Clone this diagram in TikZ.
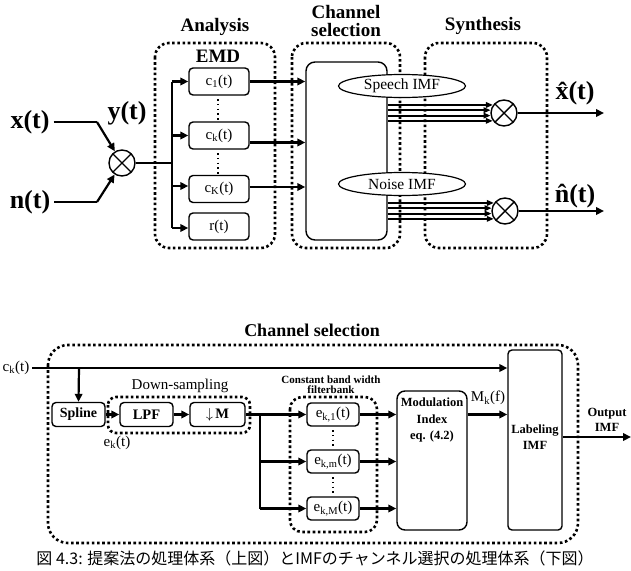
\documentclass[tikz,border=0pt]{standalone}
\usepackage{fontspec}
\setmainfont{Liberation Serif}
\newfontfamily\jpfont{Noto Sans CJK JP}
\usetikzlibrary{arrows.meta,shapes.geometric,calc}
\begin{document}
\begin{tikzpicture}[x=1pt,y=-1pt,
  conn/.style={line width=2.2pt},
  arr/.style={line width=2.2pt,-{Triangle[length=8pt,width=7.5pt]}},
  marr/.style={line width=1.8pt,-{Triangle[length=7pt,width=5.5pt]}},
  dotbox/.style={line width=2.6pt,dash pattern=on 2.6pt off 2.6pt,rounded corners=14pt},
  blk/.style={draw,line width=1.4pt,rounded corners=4pt,inner sep=0pt,fill=white},
  bigtxt/.style={font=\fontsize{26}{26}\selectfont\bfseries,inner sep=0pt},
  ttl/.style={font=\fontsize{19}{18}\selectfont\bfseries,inner sep=0pt,align=center},
  btxt/.style={font=\fontsize{15}{15}\selectfont},
  mulnode/.style={draw,circle,line width=1.4pt,minimum size=26pt,inner sep=0pt,fill=white,
     path picture={\draw[line width=1.4pt] (path picture bounding box.north west)--(path picture bounding box.south east)
       (path picture bounding box.north east)--(path picture bounding box.south west);}},
  ell/.style={draw,ellipse,line width=1.2pt,fill=white,minimum width=127pt,minimum height=23pt,inner sep=0pt,font=\fontsize{15.5}{15}\selectfont},
  vdots/.style={line width=1.6pt,dash pattern=on 1.6pt off 3.2pt}
]
\useasboundingbox (0,0) rectangle (631,570);

% ---------------- Top diagram ----------------
\draw[dotbox] (155,43) rectangle (275,248);
\draw[dotbox] (292,43) rectangle (400,248);
\draw[dotbox] (425,43) rectangle (547,248);
\node[ttl] (tana) at (215,27) {Analysis};
\node[ttl] (temd) at (218,56) {EMD};
\node[ttl] (tcs) at (346,21) {Channel\\selection};
\node[ttl] (tsyn) at (483,26) {Synthesis};

\node[bigtxt] (xt) at (30,122) {x(t)};
\node[bigtxt] (nt) at (30,202) {n(t)};
\node[bigtxt] (yt) at (127,113) {y(t)};
\node[mulnode] (mul) at (122,163) {};
\coordinate (xb) at (97,122);
\coordinate (nb) at (97,202);
\draw[conn] (xt.east)++(4,0) -- (xb);
\draw[conn] (nt.east)++(4,0) -- (nb);
\draw[arr] (xb) -- (mul);
\draw[arr] (nb) -- (mul);

\node[blk,minimum width=60pt,minimum height=27pt,btxt] (c1) at (219,81.5) {c\textsubscript{1}(t)};
\node[blk,minimum width=60pt,minimum height=27pt,btxt] (ck) at (219,135.5) {c\textsubscript{k}(t)};
\node[blk,minimum width=60pt,minimum height=27pt,btxt] (cK) at (219,189) {c\textsubscript{K}(t)};
\node[blk,minimum width=60pt,minimum height=27pt,btxt] (rt) at (219,226.5) {r(t)};
\coordinate (tr1) at (172,81.5);
\coordinate (tr2) at (172,135.5);
\coordinate (tr3) at (172,186);
\coordinate (tr4) at (172,228);
\draw[conn] (mul.east) -- (mul.east -| tr1);
\draw[conn] (tr1) -- (tr4);
\draw[arr] (tr1) -- (c1.west);
\draw[arr] (tr2) -- (ck.west);
\draw[arr] (tr3) -- (tr3 -| cK.west);
\draw[arr] (tr4) -- (tr4 -| rt.west);
\draw[vdots] (218,99) -- (218,120);
\draw[vdots] (218,153) -- (218,174);

\node[draw,line width=1.4pt,rounded corners=9pt,minimum width=81pt,minimum height=178pt,inner sep=0pt] (sel) at (346.5,151) {};
\draw[arr] (c1.east) -- (c1.east -| sel.west);
\draw[arr] ([yshift=-7pt]ck.east) -- ([yshift=-7pt]ck.east -| sel.west);
\draw[arr] ([yshift=2pt]cK.east) -- ([yshift=2pt]cK.east -| sel.west);
\node[ell] (sp) at (402,86) {Speech IMF};
\node[ell] (ni) at (402,184) {Noise IMF};

\node[mulnode] (m2) at (504,113) {};
\node[mulnode] (m3) at (505,211) {};
\foreach \a in {144.8,168.9,191.1,215.2}{
  \draw[marr] (m2.\a -| sel.east) -- (m2.\a);
  \draw[marr] (m3.\a -| sel.east) -- (m3.\a);
}
\coordinate (xo) at (604,113);
\coordinate (no) at (604,211);
\draw[arr] (m2.east) -- (xo);
\draw[arr] (m3.east) -- (no);
\node[bigtxt] (xh) at (575,93) {\^{x}(t)};
\node[bigtxt] (nh) at (575,196) {\^{n}(t)};

% ---------------- Bottom diagram ----------------
\node[font=\fontsize{18}{18}\selectfont\bfseries,inner sep=0pt] (t2) at (312,330) {Channel selection};
\draw[dotbox,rounded corners=20pt] (48,345) rectangle (578,543);
\node[btxt,inner sep=0pt] (ckl) at (16,368) {c\textsubscript{k}(t)};

\node[blk,minimum width=54pt,minimum height=180pt] (lab) at (535,440) {};
\node[font=\fontsize{12.5}{16}\selectfont\bfseries,align=center,inner sep=0pt] (labt) at (535,437) {Labeling\\IMF};
\coordinate (sp2) at (79,368);
\draw[arr] (ckl.east)++(3,0) -- (ckl.east -| lab.west);

\node[blk,minimum width=53pt,minimum height=24pt,font=\fontsize{14}{14}\selectfont\bfseries] (spl) at (78.5,414.5) {Spline};
\draw[arr] (sp2) -- (spl.north);
\draw[dotbox,rounded corners=8pt] (108,397) rectangle (250,433);
\node[btxt,inner sep=0pt] (dsl) at (180,386) {Down-sampling};
\node[blk,minimum width=53pt,minimum height=24pt,font=\fontsize{14.5}{14}\selectfont\bfseries] (lpf) at (146.5,414.5) {LPF};
\node[blk,minimum width=55pt,minimum height=24pt,font=\fontsize{14.5}{14}\selectfont\bfseries] (dm) at (217.5,414.5) {$\downarrow$\,M};
\draw[arr] (spl.east) -- (lpf.west);
\draw[arr] (lpf.east) -- (dm.west);
\node[btxt,inner sep=0pt] (ekl) at (117,443) {e\textsubscript{k}(t)};

\draw[dotbox,rounded corners=12pt] (290,397) rectangle (377,532);
\node[font=\fontsize{11}{10}\selectfont\bfseries,align=center,inner sep=0pt] (cbw) at (331,385) {Constant band width\\filterbank};
\node[blk,minimum width=52pt,minimum height=23pt,btxt] (e1) at (333,414.5) {e\textsubscript{k,1}(t)};
\node[blk,minimum width=52pt,minimum height=23pt,btxt] (em) at (333,461.5) {e\textsubscript{k,m}(t)};
\node[blk,minimum width=52pt,minimum height=23pt,btxt] (eM) at (333,508.5) {e\textsubscript{k,M}(t)};
\draw[vdots] (333,430) -- (333,447);
\draw[vdots] (333,477) -- (333,494);
\coordinate (b1) at (260,414.5);
\coordinate (b3) at (260,508.5);
\draw[conn] (dm.east) -- (b1) -- (b3);
\draw[arr] (b1) -- (e1.west);
\draw[arr] (b1 |- em.west) -- (em.west);
\draw[arr] (b3) -- (eM.west);

\node[blk,rounded corners=8pt,minimum width=70pt,minimum height=139pt] (mod) at (432,460.5) {};
\node[font=\fontsize{12.5}{16.5}\selectfont\bfseries,align=center,inner sep=0pt] (modt) at (432,420) {Modulation\\Index\\eq. (4.2)};
\draw[arr] (e1.east) -- (e1.east -| mod.west);
\draw[arr] (em.east) -- (em.east -| mod.west);
\draw[arr] (eM.east) -- (eM.east -| mod.west);
\draw[arr] (e1.east -| mod.east) -- (e1.east -| lab.west);
\node[btxt,inner sep=0pt] (mkf) at (488,398) {M\textsubscript{k}(f)};
\coordinate (outc) at (631,437);
\draw[arr] (outc -| lab.east) -- (outc);
\node[font=\fontsize{12.5}{15}\selectfont\bfseries,align=center,inner sep=0pt] (outt) at (607,420) {Output\\IMF};

% caption
\node[font=\jpfont\fontsize{16}{16}\selectfont,inner sep=0pt] (cap) at (315,558) {図 4.3: 提案法の処理体系（上図）とIMFのチャンネル選択の処理体系（下図）};
\end{tikzpicture}
\end{document}
